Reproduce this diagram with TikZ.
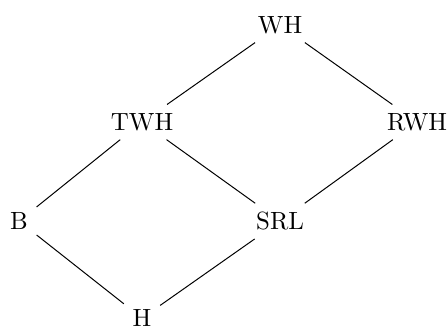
\documentclass[tikz,border=0pt]{standalone}
\usepackage{amsmath,amsfonts,amssymb}
\usepackage{tikz}

\begin{document}
\begin{tikzpicture}[thin]
    \tikzstyle{cls}=[text=black, inner sep=0.3333em]

    \useasboundingbox (0,0) rectangle (6.32,-4.615);

    \node[cls] (wh)  at (3.951,-0.353) {WH};
    \node[cls] (twh) at (2.004,-1.722) {TWH};
    \node[cls] (rwh) at (5.885,-1.722) {RWH};
    \node[cls] (b)   at (0.268,-3.119) {B};
    \node[cls] (srl) at (3.951,-3.119) {SRL};
    \node[cls] (h)   at (2.004,-4.488) {H};

    \path
     (wh) edge (twh)
     (wh) edge (rwh)
     (twh) edge (b)
     (twh) edge (srl)
     (rwh) edge (srl)
     (b) edge (h)
     (srl) edge (h)
     ;
\end{tikzpicture}
\end{document}
